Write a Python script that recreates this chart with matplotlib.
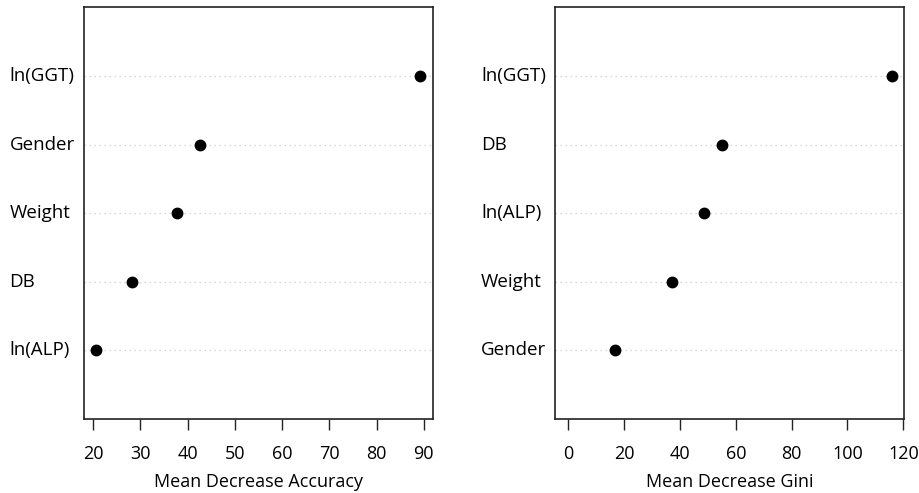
import matplotlib
matplotlib.use("Agg")
import matplotlib.pyplot as plt
import matplotlib.transforms as mtransforms

plt.rcParams['font.family'] = ['Open Sans', 'DejaVu Sans']

# Left panel (bottom -> top)
acc_labels = ["ln(ALP)", "DB", "Weight", "Gender", "ln(GGT)"]
acc_values = [20.7, 28.3, 37.8, 42.7, 89.2]
acc_ticks = [20, 30, 40, 50, 60, 70, 80, 90]

# Right panel (bottom -> top)
gini_labels = ["Gender", "Weight", "ln(ALP)", "DB", "ln(GGT)"]
gini_values = [16.7, 37.0, 48.7, 55.2, 115.9]
gini_ticks = [0, 20, 40, 60, 80, 100, 120]

W, H = 920, 493
fig = plt.figure(figsize=(W / 100, H / 100), dpi=100)

def panel(rect, labels, values, ticks, xlim, xlabel, label_x):
    ax = fig.add_axes(rect)
    ys = list(range(1, len(values) + 1))
    for y in ys:
        ax.axhline(y, color="#c8c8c8", lw=0.9, ls=(0, (1, 3)), zorder=1)
    ax.plot(values, ys, "o", color="black", ms=7.5, zorder=3)
    ax.set_xlim(*xlim)
    ax.set_ylim(0, len(values) + 1)
    ax.set_yticks([])
    ax.set_xticks(ticks)
    ax.set_xticklabels([str(t) for t in ticks], fontsize=13)
    ax.tick_params(axis="x", length=8, width=1.0, pad=11, color="#222222")
    for s in ax.spines.values():
        s.set_linewidth(1.2)
        s.set_color("#222222")
    ax.set_xlabel(xlabel, fontsize=13, labelpad=7)
    tr = mtransforms.blended_transform_factory(fig.transFigure, ax.transData)
    for y, lab in zip(ys, labels):
        ax.text(label_x / W, y, lab, transform=tr, ha="left", va="center",
                fontsize=13.5, clip_on=False)
    return ax

panel([84 / W, (H - 419) / H, (433.3 - 84) / W, (419 - 7.3) / H],
      acc_labels, acc_values, acc_ticks, (18.1, 92.0),
      "Mean Decrease Accuracy", 9.5)
panel([555.3 / W, (H - 419) / H, (904.3 - 555.3) / W, (419 - 7.3) / H],
      gini_labels, gini_values, gini_ticks, (-4.66, 120.36),
      "Mean Decrease Gini", 481)

fig.savefig("out.png", dpi=100)
